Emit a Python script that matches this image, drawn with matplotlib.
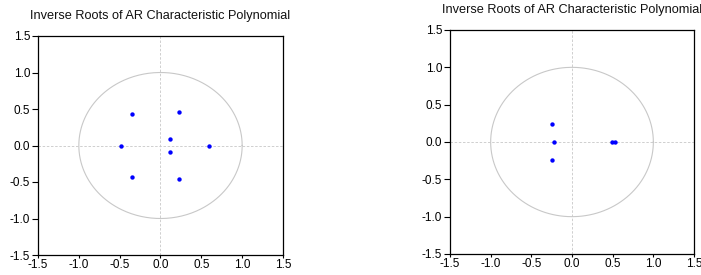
import numpy as np
import matplotlib
matplotlib.use('Agg')
import matplotlib.pyplot as plt

plt.rcParams['font.family'] = ['Liberation Sans', 'DejaVu Sans']

# ─── DATA ───────────────────────────────────────────
# inverse roots (real, imag) read off the picture
left_re = [-0.343, -0.343, 0.228, 0.228, -0.486, 0.595, 0.122, 0.122]
left_im = [0.434, -0.434, 0.455, -0.455, 0.0, 0.0, 0.086, -0.086]

right_re = [-0.25, -0.25, -0.218, 0.487, 0.533]
right_im = [0.245, -0.245, 0.0, 0.0, 0.0]

ticks = [-1.5, -1.0, -0.5, 0.0, 0.5, 1.0, 1.5]
title = 'Inverse Roots of AR Characteristic Polynomial'

W, H = 701, 275
fig = plt.figure(figsize=(W / 100, H / 100), dpi=100, facecolor='white')

# axes boxes in pixels: (left, top, right, bottom)
boxes = [(38, 36, 283, 255), (450, 30, 694, 254)]
series = [(left_re, left_im), (right_re, right_im)]

theta = np.linspace(0, 2 * np.pi, 400)

for (l, t, r, b), (re, im) in zip(boxes, series):
    ax = fig.add_axes([l / W, 1 - b / H, (r - l) / W, (b - t) / H])
    ax.plot(np.cos(theta), np.sin(theta), color='#c8c8c8', linewidth=0.8)
    ax.axhline(0, color='#c8c8c8', linestyle='--', linewidth=0.6, dashes=(3, 2))
    ax.axvline(0, color='#c8c8c8', linestyle='--', linewidth=0.6, dashes=(3, 2))
    ax.scatter(re, im, s=10, color='#0000ff', zorder=3, linewidths=0)

    ax.set_xlim(-1.5, 1.5)
    ax.set_ylim(-1.5, 1.5)
    ax.set_xticks(ticks)
    ax.set_yticks(ticks)
    ax.set_xticklabels([f'{v:.1f}' for v in ticks])
    ax.set_yticklabels([f'{v:.1f}' for v in ticks])
    ax.tick_params(direction='out', width=0.8, labelsize=8.5,
                   colors='black', top=False, right=False)
    ax.tick_params(axis='y', length=4, pad=1.5)
    ax.tick_params(axis='x', length=2.5, pad=0.5)
    for sp in ax.spines.values():
        sp.set_linewidth(0.9)
    ax.set_title(title, fontsize=9.2, pad=12, color='#111111')

fig.savefig('out.png', dpi=100, facecolor='white')
